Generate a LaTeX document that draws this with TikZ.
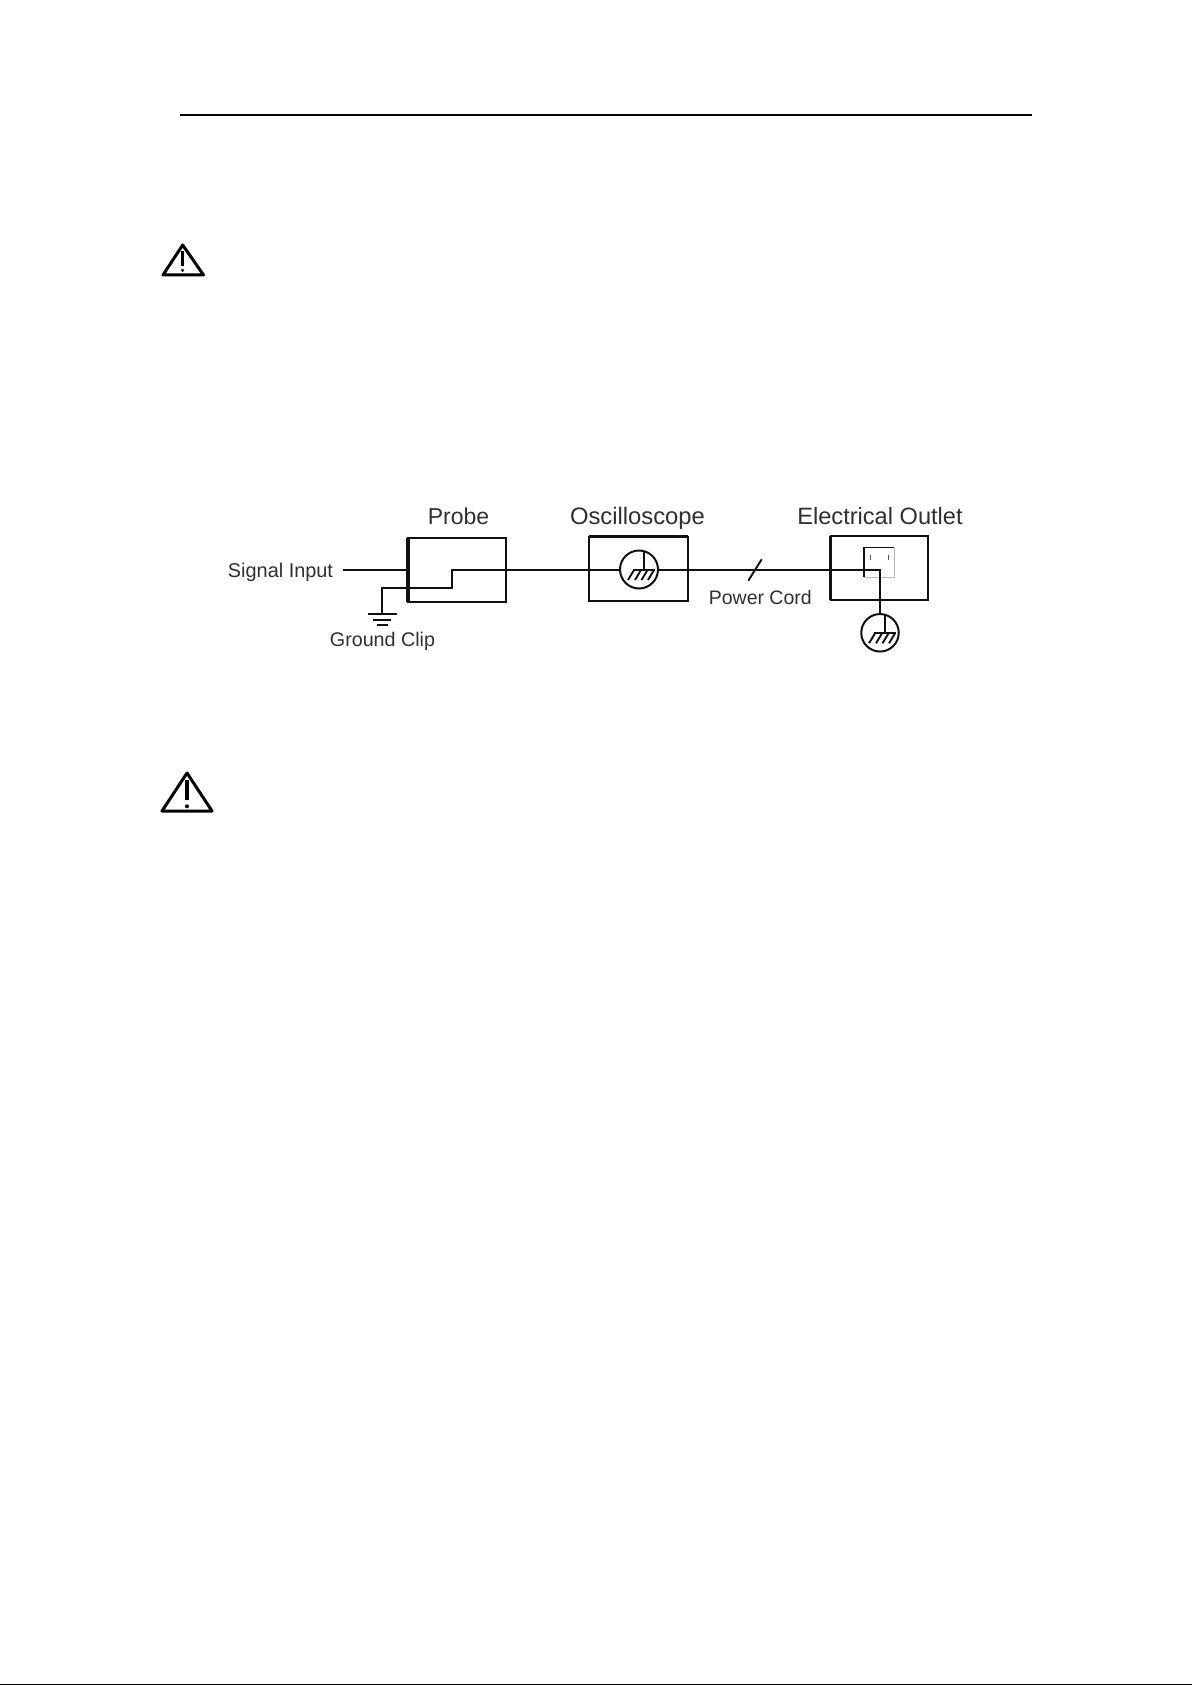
\documentclass[tikz,border=0pt]{standalone}
\usepackage{fontspec}
\setmainfont{Liberation Sans}
\definecolor{inkc}{HTML}{111111}
\definecolor{labelc}{HTML}{303030}
\definecolor{sockc}{HTML}{B8B8B8}
\tikzset{
  boxn/.style={draw=inkc,line width=2.1pt,rectangle,inner sep=0pt,outer sep=0pt,minimum width=#1},
  wire/.style={draw=inkc,line width=1.9pt,line join=miter},
  heavy/.style={draw=inkc,line width=3.2pt},
  hatchl/.style={draw=inkc,line width=1.9pt},
  gndcirc/.style={draw=inkc,line width=2pt,circle,inner sep=0pt,outer sep=0pt,minimum size=#1},
  warn/.style={draw=black,line width=3pt,line join=round,line cap=round},
  lab/.style={anchor=base,inner sep=0pt,text=labelc}
}
\newcommand{\lblfont}[1]{\fontsize{#1}{#1}\selectfont}
\newcommand{\gndsym}[1]{%
  \begin{scope}[shift={(#1.center)}]
    \draw[wire] (5,-18) -- (5,0.5);
    \draw[wire] (-6,0.5) -- (16,0.5);
    \foreach \hx in {-5,2,8.5,15}{\draw[hatchl] (\hx,0.5) -- ++(-6,10);}
  \end{scope}}
\begin{document}
\begin{tikzpicture}[x=1pt,y=-1pt]
\path[use as bounding box,fill=white] (0,0) rectangle (1192,1685);
% page rules
\coordinate (ruleL) at (180,115.3);
\coordinate (ruleR) at (1032,115.3);
\draw[black,line width=1.7pt] (ruleL) -- (ruleR);
\coordinate (botL) at (0,1684.5);
\coordinate (botR) at (1192,1684.5);
\draw[black,line width=1.4pt] (botL) -- (botR);
% warning triangles
\draw[warn] (163,275) -- (182.7,245) -- (203.5,275) -- cycle;
\draw[black,line width=3pt] (182.5,251) -- (182.5,266);
\fill[black] (182.5,270.3) circle (1.7pt);
\draw[warn] (162,811) -- (187,773) -- (212,811) -- cycle;
\draw[black,line width=3.2pt] (187,780) -- (187,800);
\fill[black] (187,806.3) circle (2pt);
% boxes
\node[boxn=98pt,minimum height=64.5pt] (probe) at (457,569.9) {};
\node[boxn=99pt,minimum height=64pt] (scope) at (638.8,568.7) {};
\node[boxn=97.6pt,minimum height=64pt] (outlet) at (879.5,568) {};
\draw[heavy] (probe.north west) -- (probe.south west);
\draw[heavy] (outlet.north west) -- (outlet.south west);
\draw[draw=inkc,line width=2.8pt] (outlet.north west) -- (outlet.north east);
\draw[draw=inkc,line width=2.8pt] (scope.north west) -- (scope.north east);
% labels
\node[lab,font=\lblfont{23}] (lprobe) at (458.5,524.3) {Probe};
\node[lab,font=\lblfont{23.8}] (lscope) at (637.5,524.3) {Oscilloscope};
\node[lab,font=\lblfont{23.6}] (loutlet) at (880,524.3) {Electrical Outlet};
\node[lab,font=\lblfont{19.9}] (lsig) at (280.5,577) {Signal Input};
\node[lab,font=\lblfont{19.7}] (lclip) at (382.5,646.7) {Ground Clip};
\node[lab,font=\lblfont{19.5}] (lcord) at (760.3,604) {Power Cord};
% ground symbols
\node[gndcirc=38pt] (gndA) at (639,569.5) {};
\node[gndcirc=37.5pt] (gndB) at (880,632.8) {};
\gndsym{gndA}
\gndsym{gndB}
% socket
\coordinate (sockTL) at (864.3,547.5);
\coordinate (sockBR) at (894.3,577.3);
\draw[sockc,line width=1.4pt] (sockTL -| sockBR) -- (sockBR) -- (sockBR -| sockTL);
\draw[inkc,line width=1.8pt] (sockBR -| sockTL) -- (sockTL) -- (sockTL -| sockBR);
\coordinate (pinA) at (870.5,555);
\coordinate (pinB) at (888.5,555);
\draw[inkc!70,line width=1.3pt] (pinA) -- ++(0,5);
\draw[inkc!70,line width=1.3pt] (pinB) -- ++(0,5);
% wires
\coordinate (sigin) at (342.7,570.3);
\draw[wire] (sigin) -- (sigin -| probe.west);
\coordinate (stepT) at (451.7,570.3);
\coordinate (stepB) at (451.7,588.3);
\coordinate (clipB) at (381.7,588.3);
\coordinate (earth) at (381.7,613.7);
\draw[wire] (gndA.west |- stepT) -- (stepT) -- (stepB) -- (clipB) -- (earth);
\coordinate (wireJ) at (880,570.3);
\draw[wire] (gndA.east |- wireJ) -- (wireJ) -- (gndB.north);
% earth bars
\draw[wire] (367.7,613.7) -- (396.7,613.7);
\draw[wire] (373,620) -- (391,620);
\draw[wire,line width=2.2pt] (376.7,625) -- (388,625);
% cord slash
\coordinate (slashA) at (748.3,580.7);
\coordinate (slashB) at (761.7,559.3);
\draw[hatchl] (slashA) -- (slashB);
\end{tikzpicture}
\end{document}
